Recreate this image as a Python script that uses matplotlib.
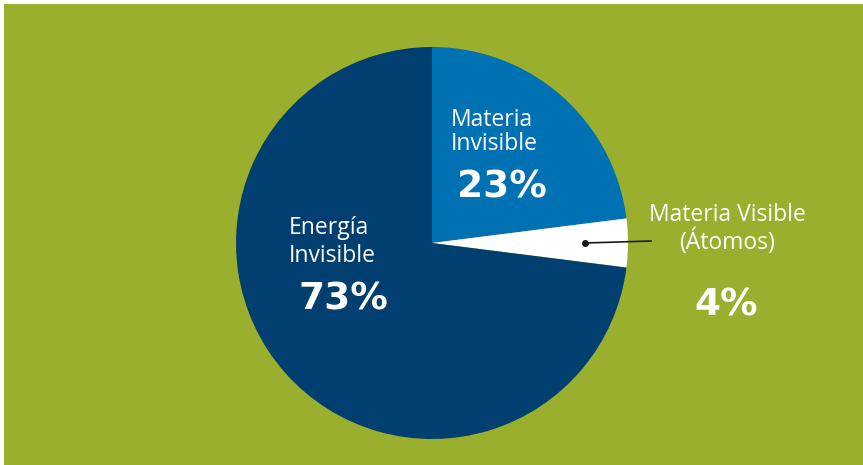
import matplotlib
matplotlib.use("Agg")
import matplotlib.pyplot as plt
from matplotlib.patches import Rectangle

# Data
labels = ["Materia\nInvisible", "Materia Visible\n(Átomos)", "Energía\nInvisible"]
values = [23, 4, 73]
pct_labels = ["23%", "4%", "73%"]
colors = ["#0071B3", "#FFFFFF", "#003F6F"]

W, H = 863, 465
fig = plt.figure(figsize=(W / 100, H / 100), dpi=100, facecolor="white")
ax = fig.add_axes([0, 0, 1, 1])
ax.set_axis_off()

ax.add_patch(Rectangle((4, 0), W - 4, H - 4, facecolor="#9BAF2F", edgecolor="none", zorder=0))

cx, cy, r = 432, H - 243, 196
ax.pie(values, colors=colors, startangle=90, counterclock=False,
       center=(cx, cy), radius=r, wedgeprops=dict(linewidth=0), frame=False)
ax.set_xlim(0, W)
ax.set_ylim(0, H)
ax.set_aspect("auto")

lab_font = dict(family=["Open Sans", "DejaVu Sans"], fontsize=16.5, fontweight="normal", color="white")
pct_font = dict(family=["DejaVu Sans"], fontsize=27, fontweight="bold", color="white")

# Materia Invisible
ax.text(451, H - 132, labels[0], ha="left", va="center", linespacing=1.04, **lab_font)
ax.text(457, H - 188, pct_labels[0], ha="left", va="center", **pct_font)
# Energia Invisible
ax.text(289, H - 242, labels[2], ha="left", va="center", linespacing=1.2, **lab_font)
ax.text(298, H - 299, pct_labels[2], ha="left", va="center", **pct_font)
# Materia Visible
ax.text(727, H - 229, labels[1], ha="center", va="center", linespacing=1.04, **lab_font)
ax.text(726, H - 305, pct_labels[1], ha="center", va="center", **pct_font)

# leader line
ax.plot([585, 651], [H - 243, H - 241], color="#1a1a1a", linewidth=1.2, zorder=5)
ax.plot([585], [H - 243], marker="o", markersize=4, color="#1a1a1a", zorder=6)

fig.savefig("out.png", dpi=100, facecolor=fig.get_facecolor())
